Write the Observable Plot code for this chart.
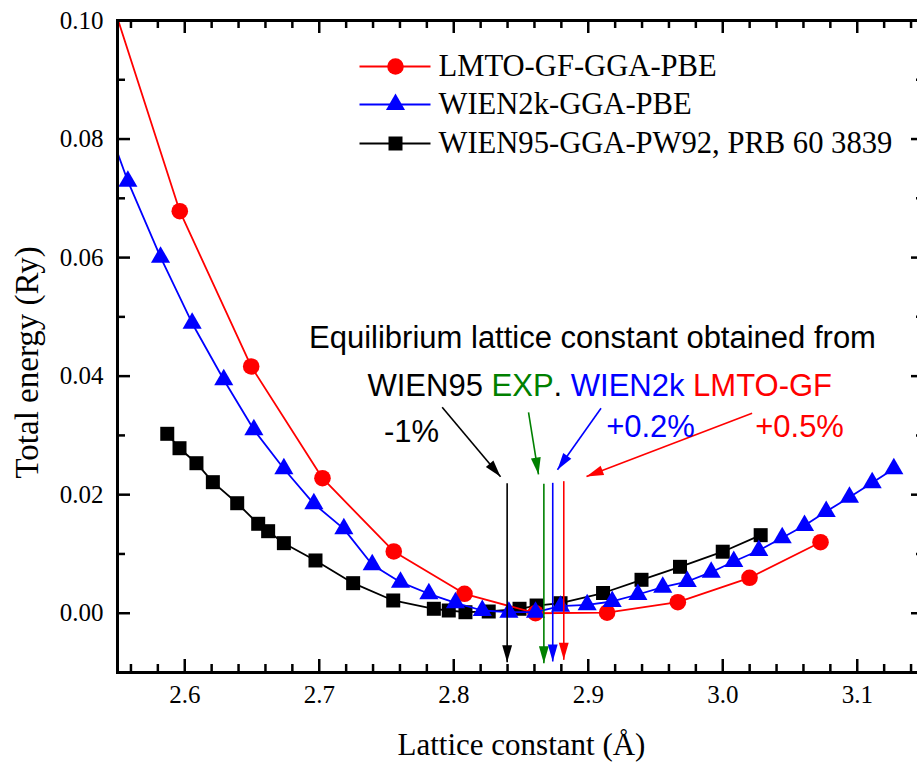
<!DOCTYPE html>
<html><head><meta charset="utf-8">
<script src="https://cdn.jsdelivr.net/npm/d3@7"></script>
<script src="https://cdn.jsdelivr.net/npm/@observablehq/plot@0.6"></script>
<style>
html,body{margin:0;padding:0;background:#fff;overflow:hidden}
</style></head><body><div id="chart"></div>
<script>
// ---- data ----
const lmtoX = [2.543, 2.5963, 2.6494, 2.7024, 2.7554, 2.808, 2.8608, 2.914, 2.9666, 3.0199, 3.0727];
const lmtoY = [0.1053, 0.06783, 0.04163, 0.02278, 0.01042, 0.00328, 0.0000, 0.0001, 0.00186, 0.00598, 0.01198];

const w2kX = [2.535, 2.5577, 2.582, 2.6055, 2.629, 2.6514, 2.6737, 2.696, 2.7183, 2.7394, 2.7604, 2.7815, 2.8013, 2.8212, 2.841, 2.8608, 2.8794, 2.8992, 2.9178, 2.9369, 2.9554, 2.9736, 2.9914, 3.0082, 3.0268, 3.0442, 3.0608, 3.0769, 3.0942, 3.1111, 3.1272];
const w2kY = [0.087, 0.07289, 0.06007, 0.04893, 0.03938, 0.03095, 0.02437, 0.01846, 0.01424, 0.00817, 0.00524, 0.00328, 0.00176, 0.00046, 0.00017, 0.00017, 0.00119, 0.00142, 0.00198, 0.00316, 0.00439, 0.00535, 0.00692, 0.00873, 0.01058, 0.01273, 0.0148, 0.01716, 0.01958, 0.02201, 0.02437];

const w95X = [2.587, 2.5961, 2.6087, 2.6209, 2.639, 2.6546, 2.662, 2.6737, 2.6972, 2.7252, 2.755, 2.7852, 2.7963, 2.8087, 2.826, 2.8489, 2.8616, 2.8794, 2.911, 2.9396, 2.9682, 3.0, 3.0282];
const w95Y = [0.03027, 0.02784, 0.02531, 0.02211, 0.01856, 0.01509, 0.01384, 0.01182, 0.0089, 0.00507, 0.00215, 0.00075, 0.00046, 0.00017, 0.00029, 0.00075, 0.0013, 0.00169, 0.00341, 0.00564, 0.00783, 0.01038, 0.01317];

const seriesNames = ["LMTO-GF-GGA-PBE", "WIEN2k-GGA-PBE", "WIEN95-GGA-PW92, PRB 60 3839"];
const seriesColors = ["#ff0000", "#0000ff", "#000000"];
const seriesSymbols = ["circle", "triangle", "square"];

const xMajorTicks = [2.6, 2.7, 2.8, 2.9, 3.0, 3.1];
const xMinorTicks = [2.56, 2.58, 2.62, 2.64, 2.66, 2.68, 2.72, 2.74, 2.76, 2.78, 2.82, 2.84, 2.86, 2.88, 2.92, 2.94, 2.96, 2.98, 3.02, 3.04, 3.06, 3.08, 3.12, 3.14];
const yMajorTicks = [0.00, 0.02, 0.04, 0.06, 0.08, 0.10];
const yMinorTicks = [0.01, 0.03, 0.05, 0.07, 0.09];

// equilibrium lattice constants (vertical arrows)
const eqNames = ["WIEN95", "EXP", "WIEN2k", "LMTO-GF"];
const eqColors = ["#000000", "#008000", "#0000ff", "#ff0000"];
const eqX = [2.8397, 2.867, 2.8736, 2.8818];
const eqTop = [0.02194, 0.02184, 0.0220, 0.02228];
const eqTip = [-0.00826, -0.00843, -0.00814, -0.00786];
// slanted pointer arrows
const ptrX1 = [2.7914, 2.8556, 2.9095, 3.0218];
const ptrY1 = [0.03476, 0.03387, 0.03459, 0.03375];
const ptrX2 = [2.8348, 2.863, 2.8771, 2.8987];
const ptrY2 = [0.02302, 0.02341, 0.0242, 0.02307];
// annotation texts
const titleText = "Equilibrium lattice constant obtained from";
const line2Words = ["WIEN95 ", "EXP", ". ", "WIEN2k ", "LMTO-GF"];
const line2Colors = ["#000000", "#008000", "#000000", "#0000ff", "#ff0000"];
const pctTexts = ["-1%", "+0.2%", "+0.5%"];
const pctColors = ["#000000", "#0000ff", "#ff0000"];
const pctX = [2.7686, 2.9463, 3.0571];
const pctY = [0.03049, 0.03134, 0.03134];

// ---- layout ----
const W = 917, H = 764, mL = 117, mR = -7, mT = 20, mB = 92;
const xDomain = [2.55, 3.15], yDomain = [-0.01, 0.10];
const kx = (W - mL - mR) / (xDomain[1] - xDomain[0]);
const ky = (H - mT - mB) / (yDomain[1] - yDomain[0]);
const X = px => xDomain[0] + (px - mL) / kx;
const Y = py => yDomain[0] + (H - mB - py) / ky;

const serif = "Liberation Serif", sans = "Liberation Sans";
const sansSize = 31;

// measure words for multi-colored line
const cv = document.createElement("canvas").getContext("2d");
cv.font = `${sansSize}px "${sans}"`;
let cursor = 367;
const line2 = line2Words.map((w, i) => {
  const d = {text: w, color: line2Colors[i], x: X(cursor), y: Y(386)};
  cursor += cv.measureText(w).width;
  return d;
});

const arrowHead = {
  draw(ctx, size) {
    const L = Math.sqrt(size), w = L * 0.29;
    ctx.moveTo(0, 0); ctx.lineTo(-w, L); ctx.lineTo(w, L); ctx.closePath();
  }
};
const headR = Math.sqrt(17 * 17 / Math.PI);
const angle = (x1, y1, x2, y2) => {
  const dx = (x2 - x1) * kx, dy = -(y2 - y1) * ky;
  return Math.atan2(dx, -dy) * 180 / Math.PI;
};

const toPts = (xs, ys) => xs.map((x, i) => ({x, y: ys[i]}));
const series = [
  {pts: toPts(lmtoX, lmtoY), r: 8.3},
  {pts: toPts(w2kX, w2kY), r: 7.1},
  {pts: toPts(w95X, w95Y), r: 7.9}
].map((s, i) => ({...s, name: seriesNames[i], color: seriesColors[i], symbol: seriesSymbols[i]}));

const drawOrder = [2, 0, 1];
const marks = [];
for (const i of drawOrder) {
  const s = series[i];
  marks.push(Plot.line(s.pts, {x: "x", y: "y", stroke: s.color, strokeWidth: 1.8, clip: true}));
  marks.push(Plot.dot(s.pts, {x: "x", y: "y", symbol: s.symbol, r: s.r, fill: s.color, stroke: "none", clip: true}));
}

// legend
const legRows = [66, 104, 143];
series.forEach((s, i) => {
  const yy = Y(legRows[i]);
  marks.push(Plot.link([0], {x1: X(359), x2: X(430), y1: yy, y2: yy, stroke: s.color, strokeWidth: 1.8}));
  marks.push(Plot.dot([0], {x: X(395), y: yy, symbol: s.symbol, r: s.r, fill: s.color, stroke: "none"}));
  marks.push(Plot.text([s.name], {x: X(438), y: yy, text: d => d, textAnchor: "start", fontFamily: serif, fontSize: 30.6, fill: "black"}));
});

// vertical arrows
const eq = eqX.map((x, i) => ({x, top: eqTop[i], tip: eqTip[i], color: eqColors[i]}));
marks.push(Plot.link(eq, {x1: "x", x2: "x", y1: "top", y2: "tip", stroke: "color", strokeWidth: 1.6}));
marks.push(Plot.dot(eq, {x: "x", y: "tip", symbol: arrowHead, r: headR, fill: "color", stroke: "none", rotate: 180}));
// slanted arrows
const ptr = ptrX1.map((x1, i) => ({x1, y1: ptrY1[i], x2: ptrX2[i], y2: ptrY2[i], color: eqColors[i], rot: angle(x1, ptrY1[i], ptrX2[i], ptrY2[i])}));
marks.push(Plot.link(ptr, {x1: "x1", y1: "y1", x2: "x2", y2: "y2", stroke: "color", strokeWidth: 1.6}));
marks.push(Plot.dot(ptr, {x: "x2", y: "y2", symbol: arrowHead, r: headR, fill: "color", stroke: "none", rotate: "rot"}));

// annotation texts
marks.push(Plot.text([titleText], {x: X(592), y: Y(338), text: d => d, fontFamily: sans, fontSize: sansSize, fill: "black"}));
marks.push(Plot.text(line2, {x: "x", y: "y", text: "text", fill: "color", textAnchor: "start", fontFamily: sans, fontSize: sansSize}));
marks.push(Plot.text(pctTexts.map((t, i) => ({t, x: pctX[i], y: pctY[i], c: pctColors[i]})), {x: "x", y: "y", text: "t", fill: "c", fontFamily: sans, fontSize: sansSize}));

// frame and inward ticks
const majL = 13, minL = 8, tickW = 2.5;
const y0 = yDomain[0], y1 = yDomain[1], x0 = xDomain[0], x1 = xDomain[1];
for (const [ticks, L] of [[xMajorTicks, majL], [xMinorTicks, minL]]) {
  marks.push(Plot.ruleX(ticks, {x: d => d, y1: y0, y2: y0 + L / ky, stroke: "black", strokeWidth: tickW}));
  marks.push(Plot.ruleX(ticks, {x: d => d, y1: y1, y2: y1 - L / ky, stroke: "black", strokeWidth: tickW}));
}
for (const [ticks, L] of [[yMajorTicks, majL], [yMinorTicks, minL]]) {
  marks.push(Plot.ruleY(ticks, {y: d => d, x1: x0, x2: x0 + L / kx, stroke: "black", strokeWidth: tickW}));
  marks.push(Plot.ruleY(ticks, {y: d => d, x1: x1, x2: x1 - L / kx, stroke: "black", strokeWidth: tickW}));
}
marks.push(Plot.frame({stroke: "black", strokeWidth: 3}));

// tick labels
marks.push(Plot.text(xMajorTicks, {x: d => d, y: y0, dy: 22, text: d => d.toFixed(1), fontFamily: serif, fontSize: 25, fill: "black"}));
marks.push(Plot.text(yMajorTicks, {x: x0, y: d => d, dx: -14, text: d => d.toFixed(2), textAnchor: "end", fontFamily: serif, fontSize: 25, fill: "black"}));

// axis titles
marks.push(Plot.text(["Lattice constant (Å)"], {x: X(521), y: Y(745), text: d => d, fontFamily: serif, fontSize: 31, fill: "black"}));
marks.push(Plot.text(["Total energy (Ry)"], {x: X(27), y: Y(478), text: d => d, rotate: -90, textAnchor: "start", fontFamily: serif, fontSize: 33, fill: "black"}));

const chart = Plot.plot({
  width: W, height: H,
  marginLeft: mL, marginRight: mR, marginTop: mT, marginBottom: mB,
  x: {domain: xDomain, axis: null},
  y: {domain: yDomain, axis: null},
  style: {background: "white", overflow: "hidden"},
  marks
});
document.getElementById("chart").appendChild(chart);
</script>
</body></html>
